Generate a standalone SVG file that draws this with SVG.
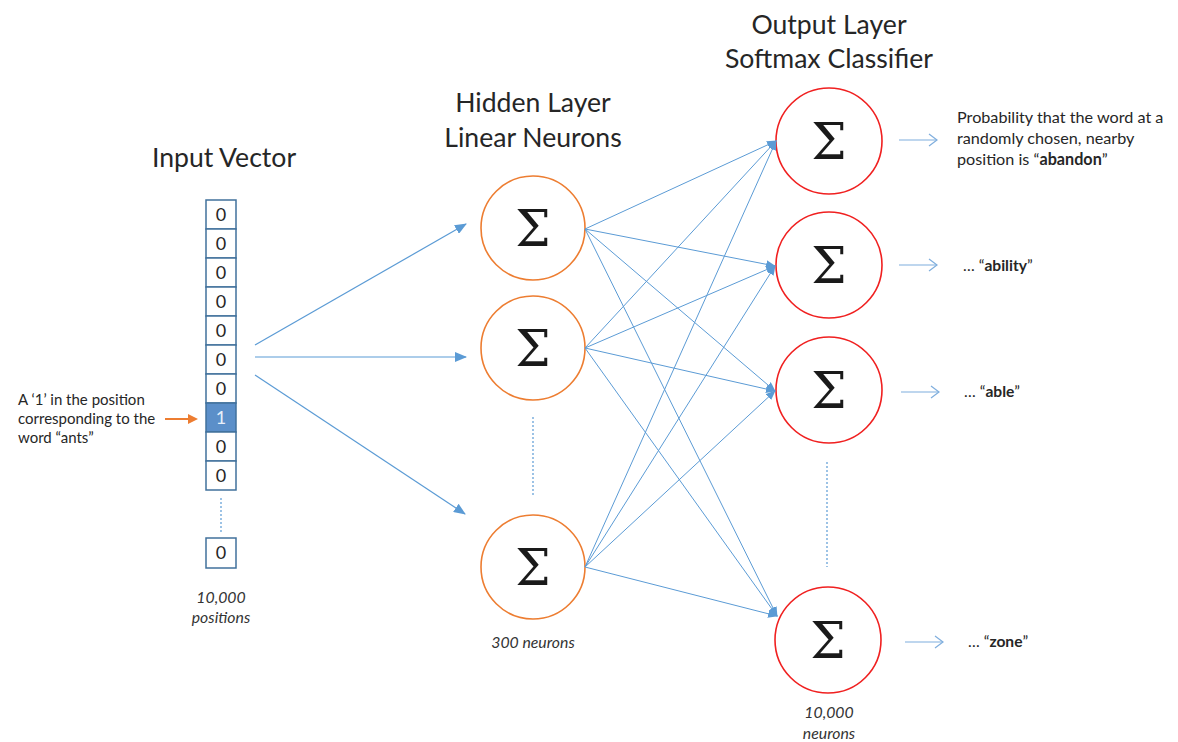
<svg xmlns="http://www.w3.org/2000/svg" width="1178" height="742" viewBox="0 0 1178 742">
<defs>
<style>
.t{font-family:Lato,"Open Sans",sans-serif;fill:#262626}
.h{font-size:26.6px;text-anchor:middle}
.s{font-size:15px}
.r{font-size:16.2px}
.e{font-size:15.6px}
.i{font-size:15.8px;font-style:italic;text-anchor:middle;fill:#333}
.cell{fill:#fff;stroke:#41719C;stroke-width:1.5}
.cv{font-family:Lato,"Open Sans",sans-serif;font-size:18px;text-anchor:middle;fill:#262626}
.hid{fill:none;stroke:#ED7D31;stroke-width:1.6}
.out{fill:none;stroke:#F02020;stroke-width:1.6}
.sig{font-family:"DejaVu Serif","Liberation Serif",serif;font-size:50px;text-anchor:middle;fill:#1a1a1a}
.c{stroke:#5B9BD5;stroke-width:1;fill:none;marker-end:url(#ah)}
.ci{stroke:#5B9BD5;stroke-width:1.2;fill:none;marker-end:url(#ah2)}
.ro{stroke:#7FAEDD;stroke-width:1.2;fill:none}
.dot{stroke:#5B9BD5;stroke-width:1.2;stroke-dasharray:2 2;fill:none}
</style>
<marker id="ah" markerUnits="userSpaceOnUse" markerWidth="10" markerHeight="8" refX="9" refY="4" orient="auto"><path d="M0,0 L10,4 L0,8 Z" fill="#5B9BD5"/></marker>
<marker id="ah2" markerUnits="userSpaceOnUse" markerWidth="12" markerHeight="10" refX="11" refY="5" orient="auto"><path d="M0,0 L12,5 L0,10 Z" fill="#5B9BD5"/></marker>
</defs>
<rect width="1178" height="742" fill="#fff"/>

<g id="titles">
<text class="t h" x="224" y="167">Input Vector</text>
<text class="t h" x="533" y="112">Hidden Layer</text>
<text class="t h" x="533" y="147">Linear Neurons</text>
<text class="t h" x="829" y="34">Output Layer</text>
<text class="t h" x="829" y="68">Softmax Classifier</text>
</g>

<g id="input-vector">
<rect class="cell" x="206" y="200" width="30" height="29"/>
<rect class="cell" x="206" y="229" width="30" height="29"/>
<rect class="cell" x="206" y="258" width="30" height="29"/>
<rect class="cell" x="206" y="287" width="30" height="29"/>
<rect class="cell" x="206" y="316" width="30" height="29"/>
<rect class="cell" x="206" y="345" width="30" height="29"/>
<rect class="cell" x="206" y="374" width="30" height="29"/>
<rect x="206" y="403" width="30" height="29" fill="#5B8FC9" stroke="#41719C" stroke-width="1.5"/>
<rect class="cell" x="206" y="432" width="30" height="29"/>
<rect class="cell" x="206" y="461" width="30" height="29"/>
<text class="cv" x="221" y="221">0</text>
<text class="cv" x="221" y="250">0</text>
<text class="cv" x="221" y="279">0</text>
<text class="cv" x="221" y="308">0</text>
<text class="cv" x="221" y="337">0</text>
<text class="cv" x="221" y="366">0</text>
<text class="cv" x="221" y="395">0</text>
<text class="cv" x="221" y="424" style="fill:#e8f0fa">1</text>
<text class="cv" x="221" y="453">0</text>
<text class="cv" x="221" y="482">0</text>
<line class="dot" x1="221" y1="498" x2="221" y2="533"/>
<rect class="cell" x="206" y="538" width="30" height="30"/>
<text class="cv" x="221" y="559">0</text>
<text class="t i" x="221" y="603">10,000</text>
<text class="t i" x="221" y="623">positions</text>
</g>

<g id="ants-label">
<text class="t s" x="18" y="405">A ‘1’ in the position</text>
<text class="t s" x="18" y="424">corresponding to the</text>
<text class="t s" x="18" y="443">word “ants”</text>
<line x1="165" y1="419" x2="190" y2="419" stroke="#ED7D31" stroke-width="2"/>
<path d="M188,414 L198,419 L188,424 Z" fill="#ED7D31"/>
</g>

<g id="hidden-1"><circle class="hid" cx="533" cy="228" r="52"/><text class="sig" x="533" y="246">Σ</text></g>
<g id="hidden-2"><circle class="hid" cx="533" cy="348" r="52"/><text class="sig" x="533" y="366">Σ</text></g>
<g id="hidden-3"><circle class="hid" cx="533" cy="567" r="52"/><text class="sig" x="533" y="585">Σ</text></g>
<line class="dot" x1="533" y1="417" x2="533" y2="497"/>
<text class="t i" x="533" y="648">300 neurons</text>

<g id="out-1"><circle class="out" cx="829" cy="141" r="53"/><text class="sig" x="829" y="159">Σ</text></g>
<g id="out-2"><circle class="out" cx="829" cy="265" r="53"/><text class="sig" x="829" y="283">Σ</text></g>
<g id="out-3"><circle class="out" cx="829" cy="390" r="53"/><text class="sig" x="829" y="408">Σ</text></g>
<g id="out-4"><circle class="out" cx="828" cy="640" r="53"/><text class="sig" x="828" y="658">Σ</text></g>
<line class="dot" x1="827" y1="462" x2="827" y2="567"/>
<text class="t i" x="829" y="718">10,000</text>
<text class="t i" x="829" y="739">neurons</text>

<g id="connectors">
<line class="ci" x1="255" y1="345" x2="466" y2="224"/>
<line class="ci" x1="255" y1="357" x2="466" y2="357"/>
<line class="ci" x1="255" y1="375" x2="465" y2="514"/>

<line class="c" x1="585" y1="229" x2="776" y2="141"/>
<line class="c" x1="585" y1="229" x2="775" y2="266"/>
<line class="c" x1="585" y1="229" x2="775" y2="391"/>
<line class="c" x1="585" y1="229" x2="777" y2="616"/>
<line class="c" x1="585" y1="348" x2="776" y2="141"/>
<line class="c" x1="585" y1="348" x2="775" y2="266"/>
<line class="c" x1="585" y1="348" x2="775" y2="391"/>
<line class="c" x1="585" y1="348" x2="777" y2="616"/>
<line class="c" x1="585" y1="567" x2="776" y2="141"/>
<line class="c" x1="585" y1="567" x2="775" y2="266"/>
<line class="c" x1="585" y1="567" x2="775" y2="391"/>
<line class="c" x1="585" y1="567" x2="777" y2="616"/>

<line class="ro" x1="899" y1="140" x2="937" y2="140"/><polyline class="ro" points="929,134 937,140 929,146"/>
<line class="ro" x1="899" y1="265" x2="937" y2="265"/><polyline class="ro" points="929,259 937,265 929,271"/>
<line class="ro" x1="901" y1="392" x2="939" y2="392"/><polyline class="ro" points="931,386 939,392 931,398"/>
<line class="ro" x1="905" y1="642" x2="943" y2="642"/><polyline class="ro" points="935,636 943,642 935,648"/>
</g>

<g id="out-labels">
<text class="t r" x="957" y="123">Probability that the word at a</text>
<text class="t r" x="957" y="144">randomly chosen, nearby</text>
<text class="t r" x="957" y="165">position is “<tspan font-weight="bold">abandon</tspan>”</text>
<text class="t e" x="963" y="271">… “<tspan font-weight="bold">ability</tspan>”</text>
<text class="t e" x="964" y="397">… “<tspan font-weight="bold">able</tspan>”</text>
<text class="t e" x="968" y="647">… “<tspan font-weight="bold">zone</tspan>”</text>
</g>
</svg>
